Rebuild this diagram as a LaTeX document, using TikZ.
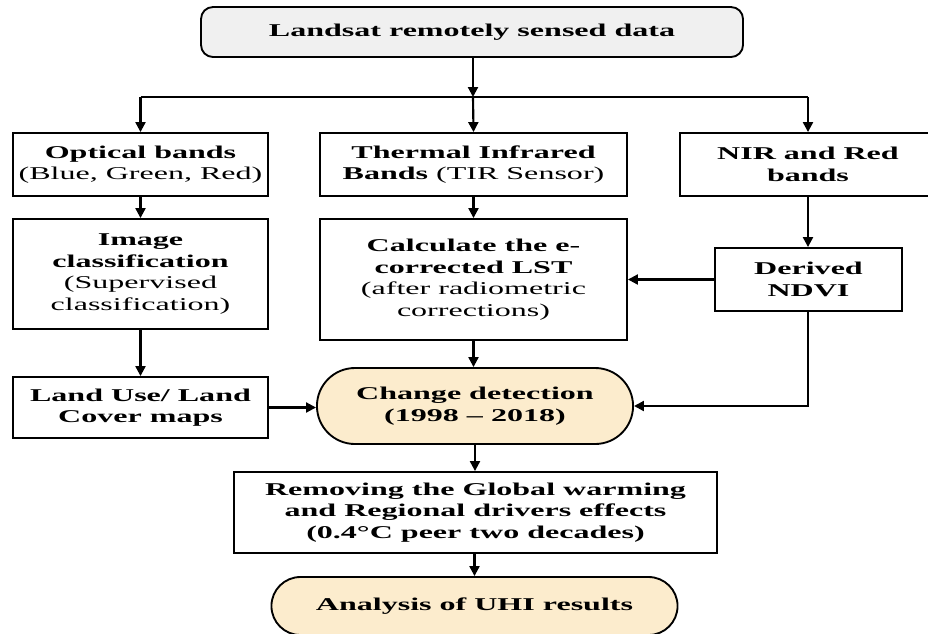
\documentclass[tikz,border=0pt]{standalone}
\usepackage{fontspec}
\setmainfont[FakeStretch=1.78]{Liberation Serif}
\usepackage{xcolor}
\usepackage{tikz}
\usetikzlibrary{shapes.misc, arrows.meta}
\definecolor{pillfill}{RGB}{252,236,205}
\begin{document}
\begin{tikzpicture}[
  x=0.75pt, y=-0.75pt,
  every node/.style={
    align=center,
    font=\fontsize{13.5}{16.25}\selectfont
  },
  box/.style={
    rectangle, draw, line width=1.4pt, fill=white
  },
  pill/.style={
    rounded rectangle, draw, line width=1.4pt, fill=pillfill
  },
  flow/.style={line width=1.6pt, -{Triangle[length=7.5pt,width=7.5pt]}}
]
\clip (0,0) rectangle (928,633);
\fill[white] (0,0) rectangle (928,633);

\node[box, rounded corners=9pt, fill=gray!12, minimum width=406.5pt, minimum height=37.5pt]
  (data) at (472,32) {\textbf{Landsat remotely sensed data}};

% prima fila
\node[box, minimum width=191.25pt, minimum height=47.25pt] (optical) at (140.5,164.5)
  {\textbf{Optical bands}\\(Blue, Green, Red)};
\node[box, minimum width=230.25pt, minimum height=47.25pt] (thermal) at (473.5,164.5)
  {\textbf{Thermal Infrared}\\\textbf{Bands} (TIR Sensor)};
\node[box, minimum width=192pt, minimum height=47.25pt] (nir) at (808,164.5)
  {\textbf{NIR and Red}\\\textbf{bands}};

\node[box, minimum width=191.25pt, minimum height=82.5pt] (classif) at (140.5,274)
  {\textbf{Image}\\\textbf{classification}\\(Supervised\\classification)};
\node[box, minimum width=230.25pt, minimum height=90.75pt] (lst) at (473.5,279.5)
  {\textbf{Calculate the e-}\\\textbf{corrected LST}\\(after radiometric\\corrections)};
\node[box, minimum width=140.25pt, minimum height=47.25pt] (ndvi) at (808.5,279.5)
  {\textbf{Derived}\\\textbf{NDVI}};

\node[box, minimum width=191.25pt, minimum height=45.75pt] (lulc) at (140.5,407.5)
  {\textbf{Land Use/ Land}\\\textbf{Cover maps}};
\node[pill, minimum width=243.75pt, minimum height=57pt] (change) at (475,406)
  {\textbf{Change detection}\\\textbf{(1998 -- 2018)}};

\node[box, minimum width=362.25pt, minimum height=60.75pt] (remove) at (475.5,512.5)
  {\textbf{Removing the Global warming}\\\textbf{and Regional drivers effects}\\\textbf{(0.4°C peer two decades)}};
\node[pill, minimum width=311.25pt, minimum height=43.5pt] (uhi) at (474.5,606)
  {\textbf{Analysis of UHI results}};

\coordinate (split) at (473,97);
\coordinate (splitL) at (140.5,97);
\coordinate (splitR) at (808,97);

\draw[flow] (data.south -| split) -- (split);
\draw[line width=1.6pt] (splitL) -- (splitR);
\draw[flow] (splitL) -- (optical.north);
\draw[flow] (split) -- (thermal.north);
\draw[flow] (splitR) -- (nir.north);

\draw[flow] (optical) -- (classif);
\draw[flow] (thermal) -- (lst);
\draw[flow] (nir.south) -- (nir.south |- ndvi.north);
\draw[flow] (classif) -- (lulc);
\draw[flow] (ndvi.west) -- (lst.east |- ndvi.west);

\draw[flow] (lst.south) -- (lst.south |- change.north);
\draw[flow] (lulc.east) -- (change.west |- lulc.east);
\draw[flow] (ndvi.south -| splitR) |- (change.east);
\draw[flow] (change.south) -- (remove.north -| change.south);
\draw[flow] (remove.south -| uhi.north) -- (uhi.north);
\end{tikzpicture}
\end{document}
